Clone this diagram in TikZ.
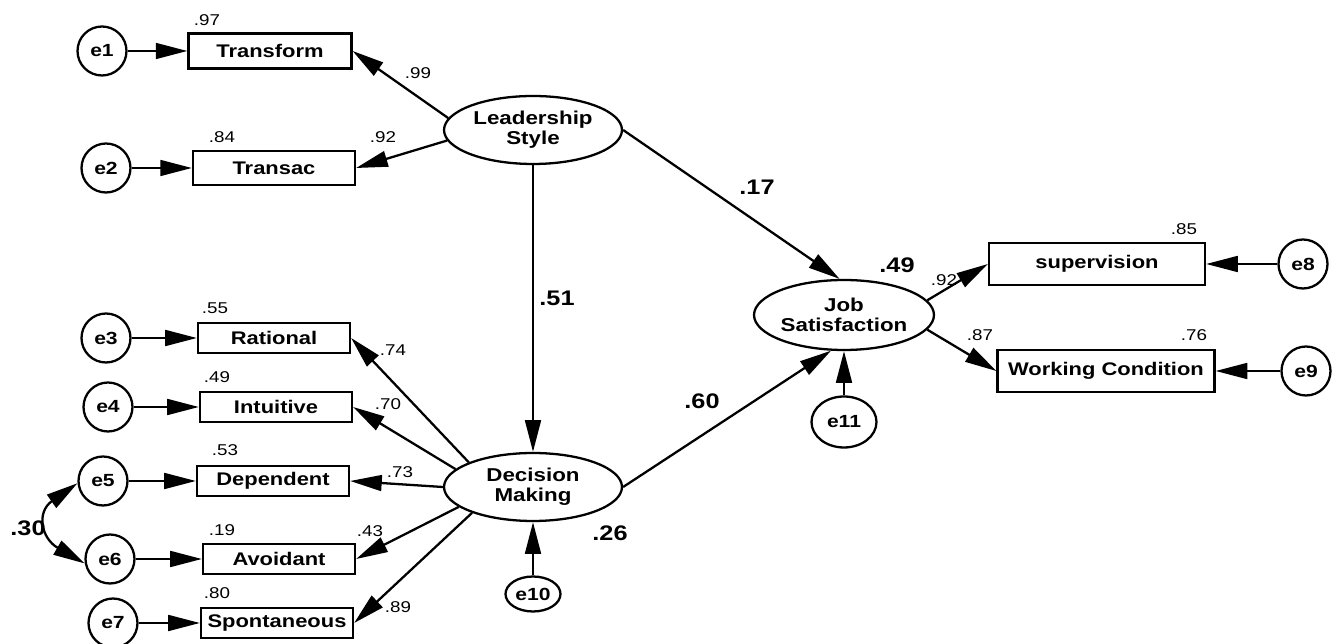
\documentclass[tikz,border=0pt]{standalone}
\usepackage{fontspec}
\setmainfont{Liberation Sans}[FakeStretch=1.2]
\usetikzlibrary{arrows.meta,shapes.geometric}

\begin{document}
\begin{tikzpicture}[x=0.02cm,y=-0.02cm,line width=1.3pt,
    >={Triangle[length=18pt,width=9pt]},
    obs/.style={draw,rectangle,inner sep=0pt,minimum width=3.04cm,minimum height=0.6cm,
        font=\bfseries\fontsize{10.4}{11}\selectfont},
    lat/.style={draw,ellipse,inner sep=0pt,minimum width=3.56cm,minimum height=1.36cm,
        align=center,font=\bfseries\fontsize{10.6}{11.4}\selectfont},
    err/.style={draw,circle,inner sep=0pt,minimum size=0.98cm,
        font=\bfseries\fontsize{10}{11}\selectfont},
    coef/.style={inner sep=0pt,font=\fontsize{8.9}{10}\selectfont},
    pcoef/.style={inner sep=0pt,font=\bfseries\fontsize{12}{13}\selectfont}]
    \useasboundingbox (0,0) rectangle (1336,644);

    % latent variables
    \node [lat] (ls) at (533,130) {Leadership\\Style};
    \node [lat] (dm) at (533,487) {Decision\\Making};
    \node [lat,minimum width=3.6cm,minimum height=1.4cm] (js) at (844,315) {Job\\Satisfaction};

    % indicators
    \node [obs,minimum width=3.26cm,minimum height=0.7cm] (tf) at (270,51) {Transform};
    \node [obs,minimum width=3.24cm,minimum height=0.68cm] (ts) at (274,168) {Transac};
    \node [obs] (rat) at (274,338) {Rational};
    \node [obs] (int) at (276,407) {Intuitive};
    \node [obs] (dep) at (273,481) {Dependent};
    \node [obs] (avo) at (279,559) {Avoidant};
    \node [obs] (spo) at (277,623) {Spontaneous};
    \node [obs,minimum width=4.32cm,minimum height=0.84cm] (sup) at (1097,264) {supervision};
    \node [obs,minimum width=4.34cm,minimum height=0.84cm] (wc) at (1106,371) {Working Condition};

    % error terms
    \foreach \n/\x/\y/\t in {1/102/51/tf,2/106/168/ts,3/106/338/rat,4/108/407/int,
                             5/103/481/dep,6/110/559/avo,7/113/623/spo} {
        \node [err] (e\n) at (\x,\y) {e\n};
        \draw [->] (e\n) -- (\t.west);
    }
    \node [err] (e8) at (1303,264) {e8};
    \node [err] (e9) at (1306,371) {e9};
    \draw [->] (e8) -- (sup.east);
    \draw [->] (e9) -- (wc.east);
    \node [err,ellipse,minimum width=1.1cm,minimum height=0.7cm] (e10) at (533,594) {e10};
    \node [err,ellipse,minimum width=1.3cm,minimum height=1.02cm] (e11) at (844,422) {e11};
    \draw [->] (e10) -- (dm);
    \draw [->] (e11) -- (js);
    \draw [<->] (e5.185) to[out=215,in=150,looseness=1.6] (e6.190);

    % loadings and paths
    \draw [->] (ls.172) -- (tf.east);
    \draw [->] (ls.187) -- (ts.east);
    \draw [->] (dm.159) -- (rat.east);
    \draw [->] (dm.167) -- (int.east);
    \draw [->] (dm.180) -- (dep.east);
    \draw [->] (dm.195) -- (avo.east);
    \draw [->] (dm.203) -- (spo.east);
    \draw [->] (js.10) -- (sup.west);
    \draw [->] (js.-10) -- (wc.west);
    \draw [->] (ls) -- (dm);
    \draw [->] (ls.east) -- (js.97);
    \draw [->] (dm.east) -- (js.250);

    % estimates
    \foreach \v/\x/\y in {.97/207/20,.84/222/137,.92/383/137,.99/418/73,
                          .55/215/308,.74/393/350,.49/217/377,.70/388/404,
                          .53/225/450,.73/400/472,.19/222/530,.43/370/531,
                          .80/217/593,.89/398/607,.85/1184/229,.76/1194/335,
                          .87/980/335,.92/944/280}
        \node [coef] (c\x-\y) at (\x,\y) {\v};
    \foreach \v/\x/\y in {.17/757/187,.51/557/298,.60/702/401,.49/897/265,
                          .26/610/533,.30/28/528}
        \node [pcoef] (p\x-\y) at (\x,\y) {\v};
\end{tikzpicture}
\end{document}
